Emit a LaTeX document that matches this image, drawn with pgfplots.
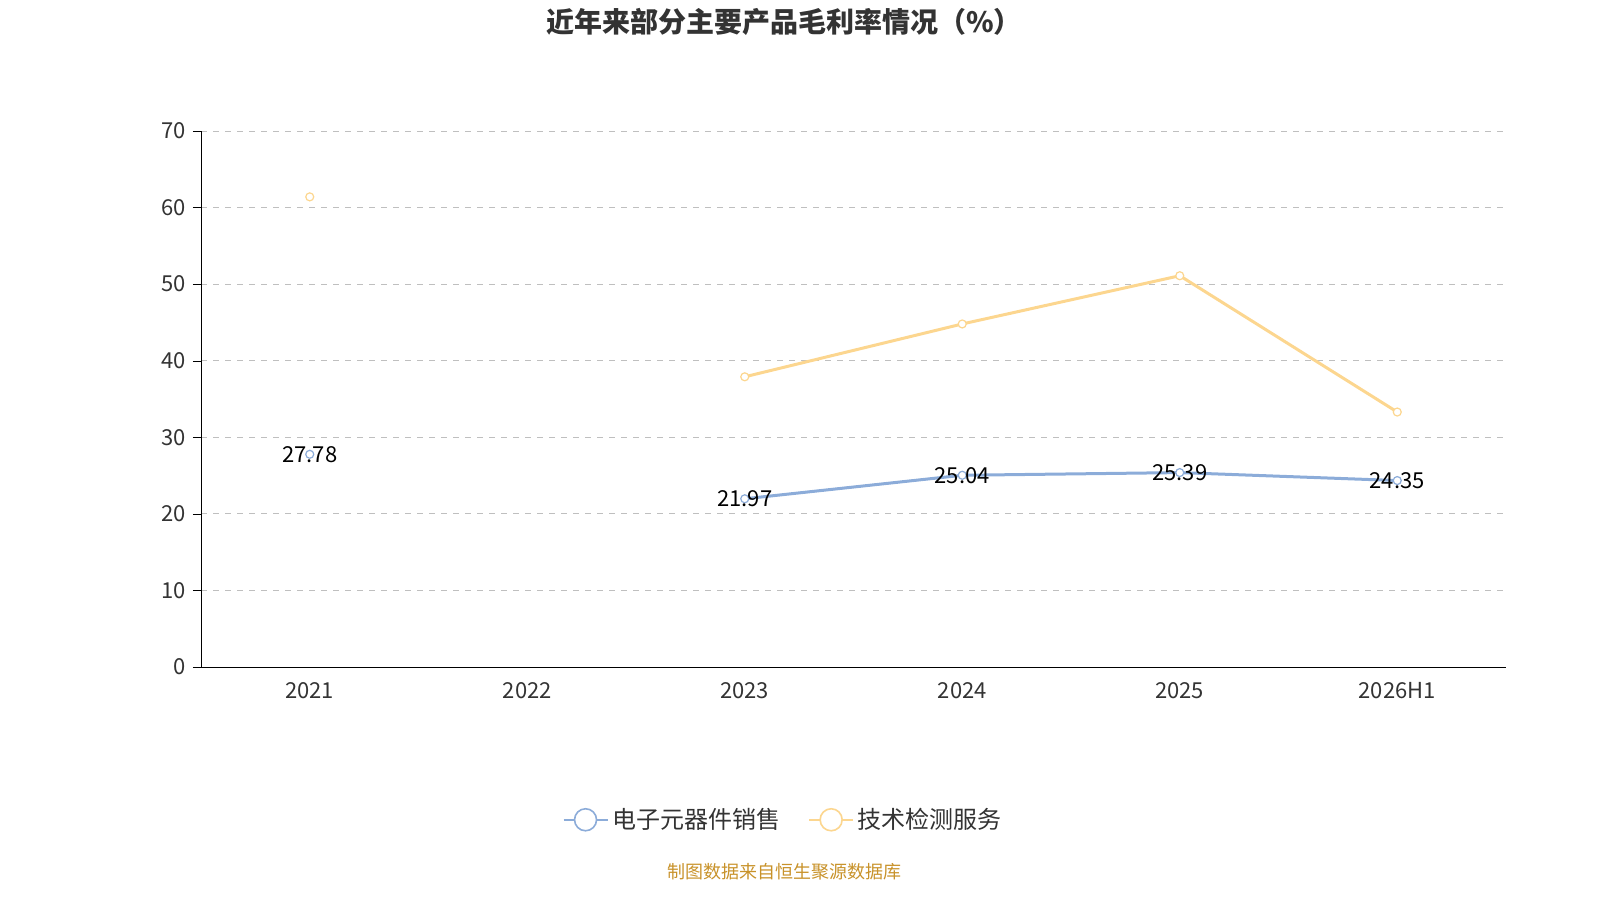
\documentclass[border=0pt]{standalone}
\usepackage{pgfplots}
\pgfplotsset{compat=1.18}
\usepackage{fontspec}
\setmainfont{Noto Sans CJK SC}
\definecolor{cb}{HTML}{8CACD9}
\definecolor{co}{HTML}{FCD68F}
\definecolor{gr}{HTML}{333333}
\definecolor{ft}{HTML}{C8922A}
\begin{document}
\begin{tikzpicture}
\node[font=\bfseries\fontsize{14}{16}\selectfont, text=gr] at (392pt,439pt) {近年来部分主要产品毛利率情况（\%）};
\node[font=\fontsize{9}{11}\selectfont, text=ft] at (392pt,14pt) {制图数据来自恒生聚源数据库};
\begin{axis}[
  at={(100.5pt,116.5pt)}, anchor=south west, scale only axis,
  width=652.5pt, height=268pt,
  xmin=-0.5, xmax=5.5, ymin=0, ymax=70,
  xtick={0,...,5}, xticklabels={2021,2022,2023,2024,2025,2026H1},
  extra x ticks={-0.5,0.5,1.5,2.5,3.5,4.5,5.5}, extra x tick labels={},
  extra x tick style={major tick length=4pt, tick align=outside, tick style={black}, grid=none},
  xtick style={draw=none},
  ytick={0,10,...,70},
  ymajorgrids, grid style={dashed, gray!50},
  axis x line*=bottom, axis y line*=left,
  y tick style={black}, tick align=outside, major tick length=4pt,
  tick label style={font=\fontsize{11}{13}\selectfont, text=gr},
  /pgf/number format/assume math mode=true,
  unbounded coords=jump,
  legend columns=2,
  legend style={at={(0.447,-0.285)}, anchor=center, draw=none, font=\fontsize{12}{14}\selectfont, text=gr, /tikz/every even column/.append style={column sep=12pt}},
  legend image code/.code={\draw[#1, mark=none, line width=0.8pt] (0pt,0pt) -- (22pt,0pt); \draw[#1, mark=none, fill=white, line width=0.8pt] (11pt,0pt) circle (5.5pt);},
]
\addplot[cb, line width=1.5pt, mark=*, mark size=2pt, mark options={fill=white, line width=0.6pt},
  nodes near coords, point meta=explicit symbolic,
  every node near coord/.append style={font=\fontsize{11}{13}\selectfont, text=black, anchor=center}]
  table[meta=l] {
x y l
0 27.78 27.78
1 nan {}
2 21.97 21.97
3 25.04 25.04
4 25.39 25.39
5 24.35 24.35
};
\addlegendentry{电子元器件销售}
\addplot[co, line width=1.5pt, mark=*, mark size=2pt, mark options={fill=white, line width=0.6pt}]
  coordinates {(0,61.4) (1,nan) (2,37.9) (3,44.8) (4,51.1) (5,33.3)};
\addlegendentry{技术检测服务}
\end{axis}
\pgfresetboundingbox
\path[use as bounding box] (0,0) rectangle (800pt,450pt);
\end{tikzpicture}
\end{document}
